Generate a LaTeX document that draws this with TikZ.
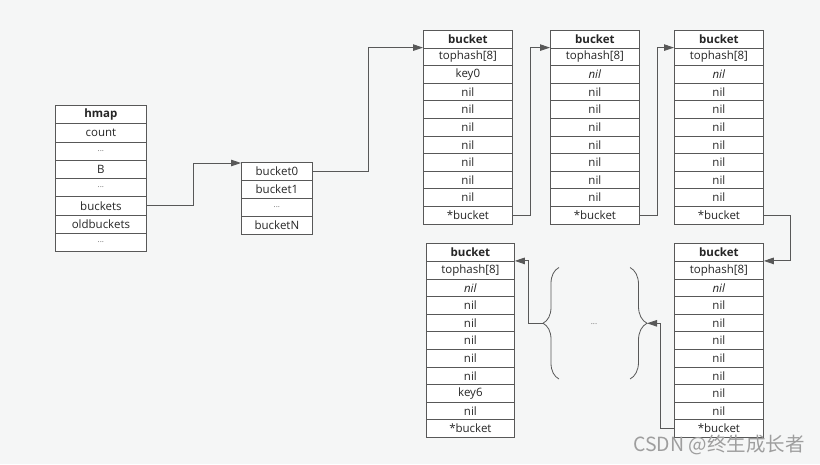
\documentclass[tikz,border=0pt]{standalone}
\usepackage{fontspec}
\setmainfont{Open Sans}
\newfontfamily\cjkfont{Noto Sans CJK SC}
\usetikzlibrary{
    decorations.pathreplacing,
    arrows.meta,
    calc,
    positioning
}
\definecolor{bgcol}{RGB}{245,246,246}
\definecolor{linecol}{RGB}{88,88,88}
\tikzset{
    cell/.style={draw=linecol, line width=0.8pt, fill=white, inner sep=0pt,
        text=black!85, font=\fontsize{11.5}{14}\selectfont},
    link/.style={draw=linecol, line width=0.9pt, -{Triangle[length=10pt, width=6.5pt]}},
    bracket/.style={draw=linecol, line width=0.8pt, decorate},
    watermark/.style={text=black!38, font=\cjkfont\fontsize{19.5}{22}\selectfont}
}
\newcommand{\gapdots}{{\fontsize{8}{9}\selectfont\color{black!55}...}}
\newcommand{\celltable}[5]{
    \foreach \txt [count=\i] in {#5} {
        \node[cell, minimum width=#3, minimum height=#4, anchor=north west] (#1-\i)
            at ($(#2) + (0, {(\i - 1)*#4})$) {\txt};
    }
}

\begin{document}
\begin{tikzpicture}[x=1pt, y=-1pt]
    \path[use as bounding box, fill=bgcol] (0, 0) rectangle (820, 464);
    \celltable{hmap}{55, 105}{91}{18.25}{\textbf{hmap}, count, \gapdots, B, \gapdots, buckets, oldbuckets, \gapdots}
    \celltable{arr}{241, 161.5}{71}{18.2}{bucket0, bucket1, \gapdots, bucketN}
    \celltable{b1}{423, 30}{89}{17.6}{\textbf{bucket}, tophash[8], key0, nil, nil, nil, nil, nil, nil, nil, *bucket}
    \celltable{b2}{550, 30}{89}{17.6}{\textbf{bucket}, tophash[8], \textit{nil}, nil, nil, nil, nil, nil, nil, nil, *bucket}
    \celltable{b3}{674, 30}{89}{17.6}{\textbf{bucket}, tophash[8], \textit{nil}, nil, nil, nil, nil, nil, nil, nil, *bucket}
    \celltable{b4}{674, 243.3}{89}{17.6}{\textbf{bucket}, tophash[8], \textit{nil}, nil, nil, nil, nil, nil, nil, nil, *bucket}
    \celltable{b5}{426, 243.3}{88}{17.6}{\textbf{bucket}, tophash[8], \textit{nil}, nil, nil, nil, nil, nil, key6, nil, *bucket}

    \draw[bracket, decoration={brace, amplitude=16pt}] (559, 379) -- (559, 267.5);
    \draw[bracket, decoration={brace, amplitude=17pt}] (630, 267.5) -- (630, 379);
    \coordinate (ltip) at (543, 323.3);
    \coordinate (rtip) at (647, 323.3);
    \node (gap) at (594, 324) {\gapdots};

    \draw[link] (hmap-6.east) -- ++(47, 0) |- ([yshift=-1.5pt]arr-1.north west);
    \draw[link] (arr-1.east) -- ++(56, 0) |- (b1-2.north west);
    \draw[link] (b1-11.east) -- ++(18, 0) |- (b2-2.north west);
    \draw[link] (b2-11.east) -- ++(18, 0) |- (b3-2.north west);
    \draw[link] (b3-11.east) -- ++(26.5, 0) |- (b4-2.north east);
    \draw[link] (b4-11.west) -- ++(-14, 0) |- (rtip);
    \draw[link] (ltip) -- ++(-15, 0) |- (b5-2.north east);

    \node[watermark] (mark) at (719, 445) {CSDN @终生成长者};
\end{tikzpicture}
\end{document}
